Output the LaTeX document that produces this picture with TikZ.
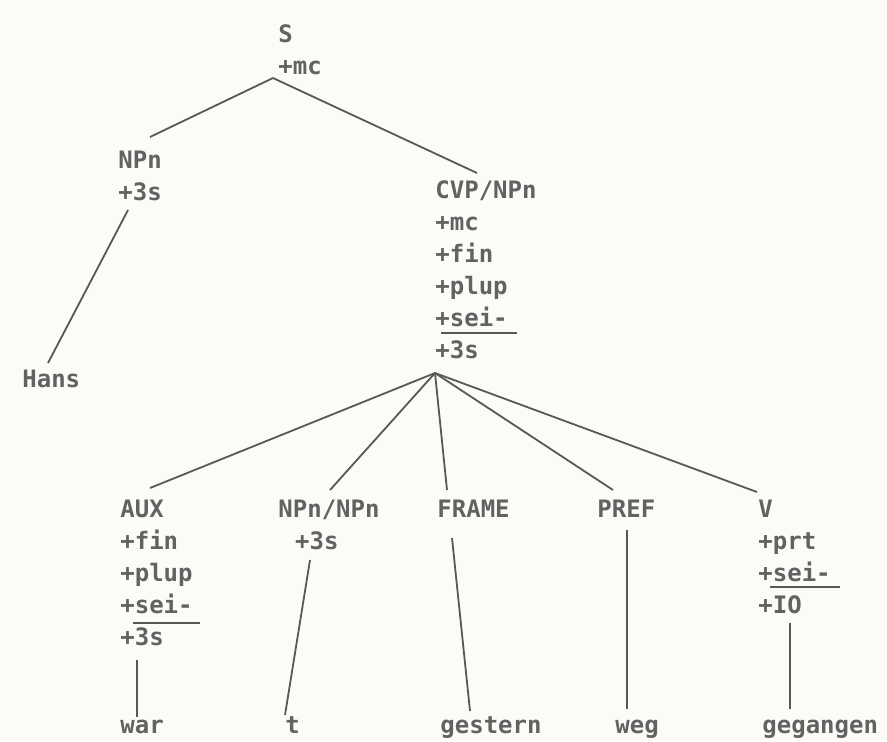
\documentclass[tikz,border=0pt]{standalone}
\usepackage{fontspec}
\setmonofont{DejaVu Sans Mono}
\usetikzlibrary{positioning, calc}
\definecolor{ink}{RGB}{88,88,88}
\definecolor{inktext}{RGB}{98,98,98}
\definecolor{paper}{RGB}{252,251,247}
\tikzset{
  cat/.style     = {anchor=north west, inner sep=0pt, align=left, text=inktext,
                    font=\ttfamily\bfseries\fontsize{12}{16}\selectfont},
  leaf/.style    = {anchor=base west, inner sep=0pt, text=inktext,
                    font=\ttfamily\bfseries\fontsize{12}{16}\selectfont},
  branch/.style  = {draw=ink, line width=0.9pt},
  featbar/.style = {draw=ink, line width=0.8pt},
}

\begin{document}
\begin{tikzpicture}[x=0.5pt, y=-0.5pt]
  \fill[paper] (0,0) rectangle (887,741);
  \useasboundingbox (0,0) rectangle (887,741);

  % upper part
  \node[cat] (s)    at (278,24)  {S\\+mc};
  \node[cat] (npn)  at (118,151) {NPn\\+3s};
  \node[cat] (cvp)  at (435,180) {CVP/NPn\\+mc\\+fin\\+plup\\+sei-\\+3s};
  \node[cat] (hans) at (22,370)  {Hans};

  % daughters of CVP/NPn
  \node[cat] (aux)   at (120,500) {AUX\\+fin\\+plup\\+sei-\\+3s};
  \node[cat] (npnn)  at (278,500) {NPn/NPn\\\hspace*{0.7em}+3s};
  \node[cat] (frame) at (437,500) {FRAME};
  \node[cat] (pref)  at (597,500) {PREF};
  \node[cat] (v)     at (758,500) {V\\+prt\\+sei-\\+IO};

  % words
  \node[leaf] (war)      at (120,733) {war};
  \node[leaf] (t)        at (285,733) {t};
  \node[leaf] (gestern)  at (440,733) {gestern};
  \node[leaf] (weg)      at (615,733) {weg};
  \node[leaf] (gegangen) at (762,733) {gegangen};

  \coordinate (s-fork)   at ($(s.north west)+(-5,54)$);
  \coordinate (cvp-fork) at ($(cvp.north west)+(0,193)$);

  \draw[branch] (s-fork) -- ($(npn.north west)+(32,-14)$);
  \draw[branch] (s-fork) -- ($(cvp.north west)+(42,-7)$);
  \draw[branch] ($(npn.north west)+(10,59)$) -- ($(hans.north west)+(26,-7)$);
  \foreach \kid/\dx/\dy in {aux/30/-12, npnn/52/-10, frame/10/-10, pref/16/-10, v/-1/-8}
    \draw[branch] (cvp-fork) -- ($(\kid.north west)+(\dx,\dy)$);

  \draw[branch] ($(aux.north west)+(17,160)$) -- ($(war.base west)+(17,-16)$);
  \draw[branch] ($(npnn.north west)+(32,60)$) -- ($(t.base west)+(0,-18)$);
  \draw[branch] ($(frame.north west)+(15,38)$) -- ($(gestern.base west)+(30,-22)$);
  \draw[branch] ($(pref.north west)+(30,30)$) -- ($(weg.base west)+(12,-24)$);
  \draw[branch] ($(v.north west)+(32,123)$) -- ($(gegangen.base west)+(28,-24)$);

  % bars under sei-
  \draw[featbar] ($(cvp.north west)+(6,153)$) -- ++(76,0);
  \draw[featbar] ($(aux.north west)+(13,123)$) -- ++(67,0);
  \draw[featbar] ($(v.north west)+(12,87)$) -- ++(70,0);
\end{tikzpicture}
\end{document}
